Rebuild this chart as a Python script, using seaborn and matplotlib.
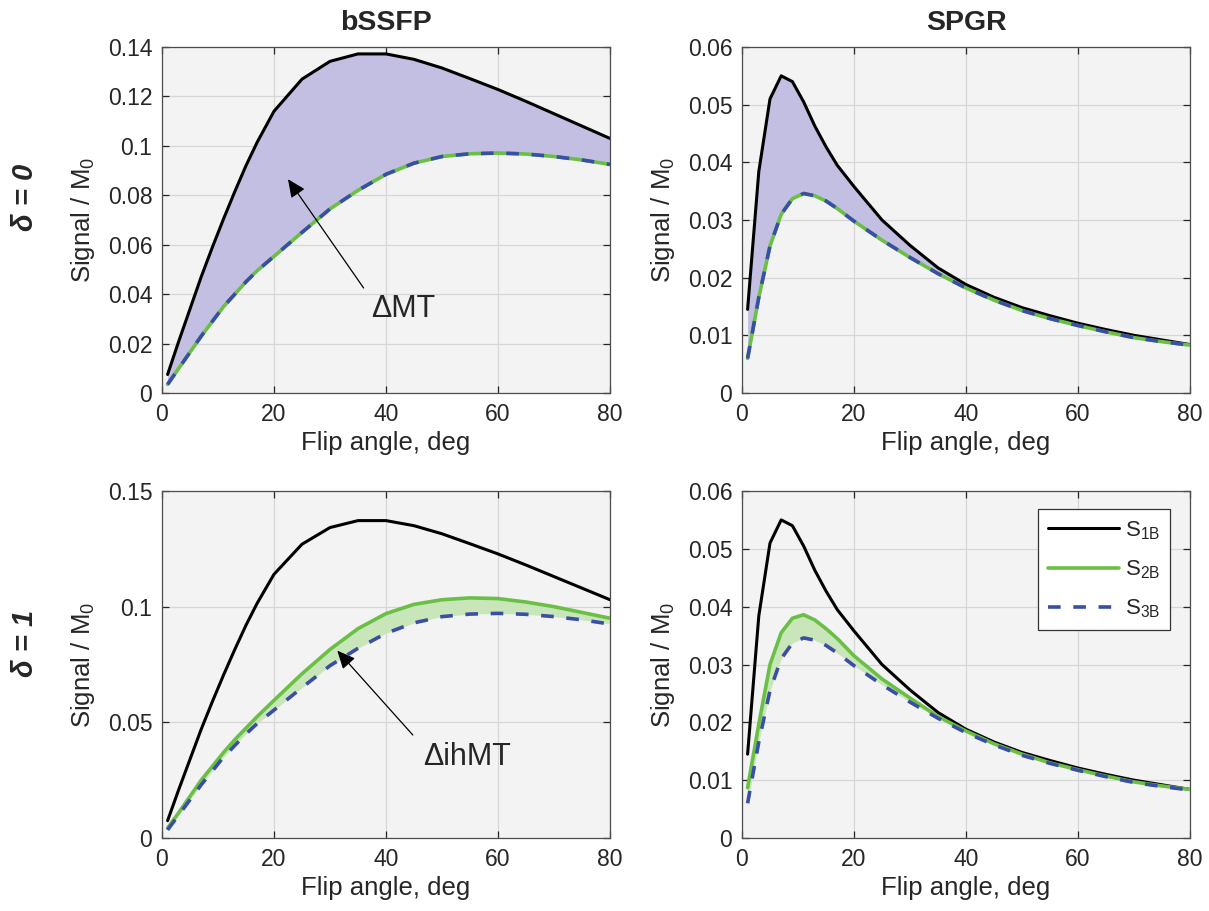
import numpy as np
import pandas as pd
import matplotlib
matplotlib.use("Agg")
import matplotlib.pyplot as plt
import seaborn as sns
from matplotlib.ticker import FuncFormatter, MultipleLocator

# flip angles (deg) at which the signals were read
flip_angle = [1, 3, 5, 7, 9, 11, 13, 15, 17, 20, 25, 30, 35, 40, 45, 50, 55, 60, 65, 70, 75, 80]

# bSSFP signals
bssfp_s1b = [0.0075, 0.021, 0.034, 0.047, 0.059, 0.0705, 0.0815, 0.092, 0.1015, 0.1140, 0.1270, 0.1342,
             0.1372, 0.1372, 0.1350, 0.1315, 0.1272, 0.1228, 0.1180, 0.1130, 0.1080, 0.1030]
bssfp_s3b = [0.0035, 0.0100, 0.0165, 0.023, 0.029, 0.035, 0.040, 0.045, 0.0495, 0.0553, 0.065, 0.0745,
             0.082, 0.0885, 0.0930, 0.0957, 0.0968, 0.0971, 0.0967, 0.0957, 0.0943, 0.0925]
bssfp_s2b_d1 = [0.0043, 0.011, 0.018, 0.025, 0.031, 0.037, 0.0425, 0.0475, 0.0525, 0.0595, 0.0710, 0.0815,
                0.0905, 0.0970, 0.1010, 0.1030, 0.1038, 0.1035, 0.1020, 0.1000, 0.0975, 0.0950]

# SPGR signals
spgr_s1b = [0.0145, 0.0384, 0.0510, 0.0550, 0.0540, 0.0505, 0.0463, 0.0427, 0.0395, 0.0358, 0.0300,
            0.0256, 0.0217, 0.0188, 0.0166, 0.0148, 0.0134, 0.0121, 0.0110, 0.0100, 0.0092, 0.0084]
spgr_s3b = [0.0060, 0.0166, 0.0255, 0.0310, 0.0337, 0.0346, 0.0342, 0.0333, 0.0320, 0.0298, 0.0265,
            0.0235, 0.0207, 0.0182, 0.0161, 0.0143, 0.0129, 0.0117, 0.0106, 0.0096, 0.0089, 0.0083]
spgr_s2b_d1 = [0.0087, 0.0197, 0.0300, 0.0355, 0.0380, 0.0386, 0.0377, 0.0362, 0.0345, 0.0315, 0.0275,
               0.0242, 0.0210, 0.0185, 0.0163, 0.0145, 0.0130, 0.0118, 0.0107, 0.0097, 0.0090, 0.0084]

# delta = 0: S2B equals S3B
bssfp_s2b_d0 = bssfp_s3b
spgr_s2b_d0 = spgr_s3b

BLACK = "#000000"
GREEN = "#6abf45"
BLUE = "#3a4ea6"
PURPLE_FILL = "#c2bfe2"
GREEN_FILL = "#c9e6bb"

sns.set_style("ticks")
plt.rcParams["font.family"] = ["Liberation Sans", "DejaVu Sans"]
plt.rcParams["mathtext.default"] = "regular"

fig = plt.figure(figsize=(12.09, 9.11), dpi=100)
W, H = 1209, 911


def add_axes(left, top, right, bottom):
    return fig.add_axes([left / W, 1 - bottom / H, (right - left) / W, (bottom - top) / H])


ax_tl = add_axes(162, 47, 610, 393)
ax_tr = add_axes(742, 47, 1190, 393)
ax_bl = add_axes(162, 491, 610, 838)
ax_br = add_axes(742, 491, 1190, 838)


def fmt(v, pos):
    return f"{round(v, 4):g}"


def style_axis(ax, ymax, ystep):
    ax.set_facecolor("#f3f3f3")
    ax.set_xlim(0, 80)
    ax.set_ylim(0, ymax)
    ax.xaxis.set_major_locator(MultipleLocator(20))
    ax.yaxis.set_major_locator(MultipleLocator(ystep))
    ax.yaxis.set_major_formatter(FuncFormatter(fmt))
    ax.grid(True, color="#d6d6d6", linewidth=0.9)
    ax.set_axisbelow(True)
    ax.tick_params(direction="in", top=True, right=True, length=5, width=0.9,
                   labelsize=16.5, colors="#262626", pad=7)
    for sp in ax.spines.values():
        sp.set_visible(True)
        sp.set_color("#4d4d4d")
        sp.set_linewidth(0.9)
    ax.set_xlabel("Flip angle, deg", fontsize=18.5, color="#262626", labelpad=4)
    ax.set_ylabel("Signal / M$_0$", fontsize=18.5, color="#262626", labelpad=8)


def draw_panel(ax, s1, s2, s3, fill_pair, fill_color):
    df = pd.DataFrame({"fa": flip_angle, "s1": s1, "s2": s2, "s3": s3})
    lo, hi = fill_pair
    ax.fill_between(df["fa"], df[lo], df[hi], color=fill_color, linewidth=0, zorder=1)
    sns.lineplot(data=df, x="fa", y="s1", ax=ax, color=BLACK, linewidth=2.2, label="S$_{1B}$", zorder=3)
    sns.lineplot(data=df, x="fa", y="s2", ax=ax, color=GREEN, linewidth=2.6, label="S$_{2B}$", zorder=3)
    sns.lineplot(data=df, x="fa", y="s3", ax=ax, color=BLUE, linewidth=2.6, label="S$_{3B}$", zorder=4,
                 linestyle=(0, (3.5, 3.5)))


draw_panel(ax_tl, bssfp_s1b, bssfp_s2b_d0, bssfp_s3b, ("s2", "s1"), PURPLE_FILL)
draw_panel(ax_tr, spgr_s1b, spgr_s2b_d0, spgr_s3b, ("s2", "s1"), PURPLE_FILL)
draw_panel(ax_bl, bssfp_s1b, bssfp_s2b_d1, bssfp_s3b, ("s3", "s2"), GREEN_FILL)
draw_panel(ax_br, spgr_s1b, spgr_s2b_d1, spgr_s3b, ("s3", "s2"), GREEN_FILL)

style_axis(ax_tl, 0.14, 0.02)
style_axis(ax_tr, 0.06, 0.01)
style_axis(ax_bl, 0.15, 0.05)
style_axis(ax_br, 0.06, 0.01)

for ax in (ax_tl, ax_tr, ax_bl):
    ax.get_legend().remove()

leg = ax_br.legend(loc="upper right", fontsize=16, frameon=True, fancybox=False,
                   handlelength=3.2, handletextpad=0.25, labelspacing=0.75,
                   borderpad=0.45, borderaxespad=0, bbox_to_anchor=(0.955, 0.948))
leg.get_frame().set_edgecolor("#333333")
leg.get_frame().set_linewidth(0.9)
leg.get_frame().set_facecolor("white")
leg.get_frame().set_alpha(1)

ax_tl.set_title("bSSFP", fontsize=20.5, fontweight="bold", pad=12)
ax_tr.set_title("SPGR", fontsize=20.5, fontweight="bold", pad=12)

arrow = dict(arrowstyle="-|>,head_length=1.1,head_width=0.5", color="black", lw=0.9,
             shrinkA=0, shrinkB=0)
ax_tl.annotate("", xy=(22.5, 0.0865), xytext=(36, 0.0425), arrowprops=arrow)
ax_tl.text(37.3, 0.034, "\u0394MT", fontsize=22, va="center", ha="left")
ax_bl.annotate("", xy=(31.3, 0.081), xytext=(44.8, 0.0445), arrowprops=arrow)
ax_bl.text(46.6, 0.035, "\u0394ihMT", fontsize=22, va="center", ha="left")

fig.text(0.021, 0.783, "\u03b4 = 0", rotation=90, fontsize=21, fontweight="bold",
         fontstyle="italic", ha="center", va="center")
fig.text(0.021, 0.294, "\u03b4 = 1", rotation=90, fontsize=21, fontweight="bold",
         fontstyle="italic", ha="center", va="center")

fig.savefig("out.png", dpi=100)
